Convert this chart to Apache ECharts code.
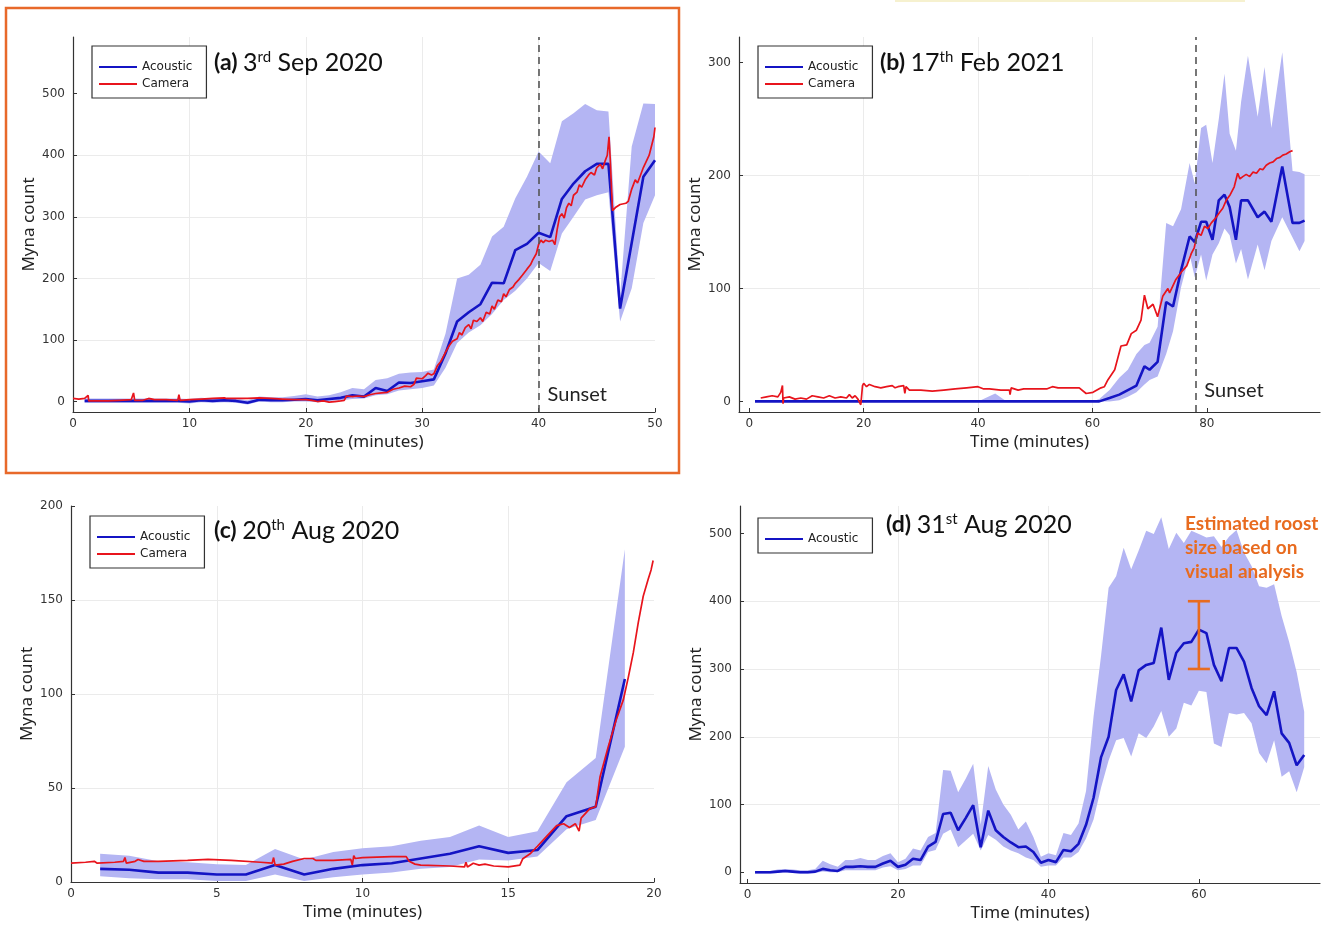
<!DOCTYPE html>
<html><head><meta charset="utf-8">
<script src="https://cdn.jsdelivr.net/npm/echarts@6/dist/echarts.min.js"></script>
<style>html,body{margin:0;padding:0;background:#fff}#c{width:1330px;height:926px}</style>
</head><body><div id="c"></div><script>
// ---------- Panel (a) 3rd Sep 2020 ----------
const aTime = [1,2,3,4,5,6,7,8,9,10,11,12,13,14,15,16,17,18,19,20,21,22,23,24,25,26,27,28,29,30,31,32,33,34,35,36,37,38,39,40,41,42,43,44,45,46,47,48,49,50];
const aAcoustic = [1,1,1,1,1,1,1,1,1,0, 2,1,2,1,-2,3,2,2,3,4, 2,4,6,10,8,22,17,31,30,33, 36,78,130,145,158,193,192,246,256,274, 267,329,354,374,386,386,151,258,365,392];
const aLow = [-2,-2,-2,-2,-2,-2,-2,-2,-2,-3, -1,-2,-1,-2,-5,0,-1,-1,0,0, -1,1,2,4,5,10,12,18,20,22, 26,55,95,112,124,142,165,180,200,225, 212,273,300,328,335,340,130,184,290,335];
const aHigh = [5,5,5,5,5,5,5,5,5,4, 6,5,6,5,2,8,7,7,9,12, 8,10,15,22,20,35,38,45,47,48, 52,110,200,206,222,268,284,330,365,406, 387,455,468,483,473,471,172,414,484,483];
const aCamera = [[0,5],[0.5,4],[1,5],[1.3,10],[1.35,1],[2,1],[3,1],[4,2],[5,3],[5.2,14],[5.3,2],[6,2],[6.5,5],[6.6,2],[7,3],[8,3],[9,2],[9.1,11],[9.2,2],[10,3],[11,4],[12,5],[13,6],[13.1,9],[13.2,5],[14,5],[15,5],[16,6],[17,5],[18,4],[18.1,6],[19,3],[20,3],[20.5,2],[21,0],[21.5,1],[22,-1],[22.5,0],[23,1],[23.3,2],[23.5,9],[24,8],[24.5,9],[25,8],[25.5,11],[26,13],[26.5,14],[27,15],[27.5,20],[28,22],[28.5,25],[29,24],[29.3,28],[29.5,38],[30,37],[30.3,42],[30.5,46],[30.8,43],[31,45],[31.3,58],[31.6,65],[32,80],[32.3,90],[32.6,98],[33,102],[33.2,112],[33.4,108],[33.7,120],[34,125],[34.2,118],[34.4,132],[34.7,130],[35,136],[35.2,130],[35.5,145],[35.8,142],[36,155],[36.2,150],[36.5,165],[36.8,162],[37,175],[37.2,170],[37.5,182],[37.8,186],[38,192],[38.3,198],[38.6,205],[38.8,210],[39,215],[39.3,222],[39.5,230],[39.8,240],[40,255],[40.2,262],[40.4,258],[40.6,262],[40.9,260],[41.2,262],[41.4,255],[41.6,280],[41.8,300],[42,305],[42.2,298],[42.4,315],[42.6,322],[42.8,318],[43,335],[43.3,340],[43.5,352],[43.7,348],[44,360],[44.3,368],[44.5,372],[44.8,368],[45,380],[45.3,385],[45.5,378],[45.7,390],[45.9,400],[46.05,430],[46.15,395],[46.35,310],[46.6,315],[47,320],[47.5,322],[47.7,325],[48,345],[48.3,360],[48.5,355],[48.8,370],[49,380],[49.3,392],[49.5,400],[49.7,415],[49.9,430],[50,445]];
const aSunset = 40;
const aXTicks = [0,10,20,30,40,50];
const aYTicks = [0,100,200,300,400,500];

// ---------- Panel (b) 17th Feb 2021 ----------
const bTime = [1,5,10,15,20,25,30,35,40,43,45,50,55,60,61.2,63,64.7,66.2,67.7,69.1,70,71.4,72.9,74.1,75.5,77,77.9,79,79.9,81,82.1,83.1,84,85.1,86,87.2,88.9,90.1,91.3,93.2,95,96.2,97.1];
const bAcoustic = [0,0,0,0,0,0,0,0,0,0,0,0,0,0,0,3,6,10,14,31,28,35,88,84,116,146,141,159,159,143,178,183,172,143,178,178,163,168,159,208,158,158,160];
const bLow = [0,0,0,0,0,0,0,0,0,0,0,0,0,0,0,0,1,4,8,15,19,22,42,62,101,130,110,130,107,130,140,153,147,122,135,108,139,116,142,163,145,133,142];
const bHigh = [0,0,0,0,0,0,0,0,0,7,0,0,0,0,2,10,21,28,42,50,52,66,158,155,170,211,193,242,245,211,250,290,237,222,265,306,252,296,242,309,204,203,201];
const bCamera = [[2,3],[3,4],[4,5],[5,4],[5.5,8],[5.8,14],[5.9,-2],[6,3],[7,4],[8,2],[9,3],[10,2],[11,5],[12,4],[13,3],[14,5],[15,3],[16,4],[17,3],[17.5,6],[18,3],[18.5,5],[19,2],[19.3,3],[19.5,-3],[19.8,14],[20,16],[20.5,13],[21,15],[22,13],[23,12],[24,13],[25,14],[25.5,12],[26,13],[27,14],[27.2,7],[27.4,13],[28,10],[30,10],[32,9],[34,10],[36,11],[38,12],[40,13],[41,11],[42,11],[44,10],[45.5,10],[45.6,6],[45.8,12],[47,10],[48,11],[50,11],[52,11],[53,13],[54,12],[56,12],[57.7,12],[58.9,7],[60.1,8],[61.5,12],[62.1,13],[62.7,19],[63.9,28],[65,49],[66,50],[66.8,60],[67.7,63],[68.5,72],[69.1,94],[69.7,82],[70.6,86],[71.4,75],[72.3,93],[73.2,100],[73.5,96],[74.6,108],[75.8,116],[76.5,120],[77.3,131],[77.8,136],[78.4,149],[79,147],[79.6,155],[80.2,153],[80.8,158],[81.5,162],[82.2,167],[82.8,171],[83.4,178],[84.1,183],[84.8,190],[85.4,202],[85.8,197],[86.3,199],[86.9,201],[87.5,199],[88.1,203],[88.7,202],[89.3,206],[89.8,205],[90.4,209],[91,211],[91.6,212],[92.2,215],[92.8,216],[93.3,218],[93.9,219],[94.5,221],[95,222]];
const bSunset = 78;
const bXTicks = [0,20,40,60,80];
const bYTicks = [0,100,200,300];

// ---------- Panel (c) 20th Aug 2020 ----------
const cTime = [1,2,3,4,5,6,7,8,9,10,11,12,13,14,15,16,17,18,19];
const cAcoustic = [7,6.5,5,5,4,4,9,4,7,9,10,12.5,15,19,15.5,17,35,40,108];
const cLow = [3,2,1.5,1.5,0.5,0.5,4,0.5,2.5,4,5,7,8,12,11.5,13.5,28,33,72];
const cHigh = [15,14,11,10.5,9.5,9,17.5,12,16,18,19,22,24,30,24,27,53,66,177];
const cCamera = [[0,10],[0.5,10.5],[0.8,11],[0.9,10],[1.5,10.5],[1.8,11],[1.85,13],[1.9,10],[2.2,11],[2.3,12],[2.5,11],[3,11],[4,11.5],[4.7,12],[5.5,11.5],[6.5,10.5],[6.9,10],[6.95,13],[7,9],[7.3,9.5],[7.6,11],[8,12.5],[8.3,12.5],[8.4,11.5],[9,11.5],[9.6,12],[9.65,9],[9.7,14],[9.75,12.5],[10,13],[11,13.5],[11.5,13.5],[11.6,11],[11.8,9.5],[12,9],[13,8.5],[13.5,8],[13.55,10.5],[13.6,8],[13.8,10],[14,9],[14.2,9.5],[14.5,8.5],[15,8],[15.4,9],[15.5,12.4],[15.75,15],[16,19],[16.3,24],[16.66,30],[16.9,31],[17.1,29],[17.3,31],[17.43,27],[17.5,34],[17.8,39],[18,40],[18.15,56],[18.43,72],[18.7,86],[18.95,97],[19.12,109],[19.29,122],[19.46,138],[19.63,152],[19.8,161],[19.9,166],[19.97,171]];
const cXTicks = [0,5,10,15,20];
const cYTicks = [0,50,100,150,200];

// ---------- Panel (d) 31st Aug 2020 ----------
const dTime = [1,2,3,4,5,6,7,8,9,10,11,12,13,14,15,16,17,18,19,20,21,22,23,24,25,26,27,28,29,30,31,32,33,34,35,36,37,38,39,40,41,42,43,44,45,46,47,48,49,50,51,52,53,54,55,56,57,58,59,60,61,62,63,64,65,66,67,68,69,70,71,72,73,74];
const dAcoustic = [0,0,0,1,2,1,0,0,1,5, 3,2,8,8,9,8,8,13,17,8, 11,20,18,38,45,86,88,62,80,99, 37,91,62,52,44,37,38,30,14,18, 15,33,31,42,70,110,170,200,269,292, 252,298,306,309,361,284,324,338,340,358, 353,306,282,331,331,311,272,245,232,267, 205,191,158,173];
const dLow = [-2,-2,-2,-1,0,-1,-2,-2,-1,1, 0,0,3,3,3,3,3,7,9,3, 5,10,10,30,33,57,63,37,47,57, 32,55,48,38,32,28,22,18,8,10, 10,22,22,30,50,78,125,165,195,198, 171,205,198,215,238,200,212,250,246,268, 266,190,185,235,233,235,220,176,161,195, 141,149,118,155];
const dHigh = [2,2,2,4,5,4,3,3,5,17, 12,8,18,18,21,18,18,24,28,15, 20,35,32,52,58,151,150,118,138,160, 70,157,122,100,85,63,75,52,23,28, 25,58,55,72,120,230,320,420,437,479, 447,475,504,499,524,477,501,486,504,499, 494,496,480,495,505,472,452,422,420,425, 378,340,295,237];
const dEstimate = [[60,300,400]];
const dXTicks = [0,20,40,60];
const dYTicks = [0,100,200,300,400,500];

// ---------- styles ----------
const BLUE = '#1414c4', RED = '#e8141c', BAND = '#b4b5f3', ORANGE = '#e86b1f';
const AXIS = '#333', GRIDC = '#ebebeb';
const TXT = 'Noto Sans', TICKF = 'DejaVu Sans', TITLEF = 'Lato';

function pairs(xs, ys) { return xs.map((x, i) => [x, ys[i]]); }

function xAxisDef(idx, min, max, ticks) {
  return {
    type: 'value', gridIndex: idx, min: min, max: max,
    name: 'Time (minutes)', nameLocation: 'middle', nameGap: 22,
    nameTextStyle: { fontFamily: TXT, fontSize: 17, color: '#222' },
    axisLine: { show: true, onZero: false, lineStyle: { color: AXIS, width: 1.2 } },
    axisTick: { show: true, inside: true, length: 4, customValues: ticks, lineStyle: { color: AXIS } },
    axisLabel: { customValues: ticks, fontFamily: TICKF, fontSize: 12, color: '#333', margin: 6 },
    splitLine: { show: true, showMinLine: false, showMaxLine: false, lineStyle: { color: GRIDC, width: 1 } }
  };
}
function yAxisDef(idx, min, max, ticks) {
  return {
    type: 'value', gridIndex: idx, min: min, max: max,
    name: 'Myna count', nameLocation: 'middle', nameGap: 35,
    nameTextStyle: { fontFamily: TXT, fontSize: 17, color: '#222' },
    axisLine: { show: true, onZero: false, lineStyle: { color: AXIS, width: 1.2 } },
    axisTick: { show: true, inside: true, length: 4, customValues: ticks, lineStyle: { color: AXIS } },
    axisLabel: { customValues: ticks, fontFamily: TICKF, fontSize: 12, color: '#333', margin: 8 },
    splitLine: { show: true, showMinLine: false, showMaxLine: false, lineStyle: { color: GRIDC, width: 1 } }
  };
}
function bandSeries(idx, xs, lo, hi) {
  return {
    type: 'custom', name: 'band' + idx, xAxisIndex: idx, yAxisIndex: idx, silent: true, z: 1, clip: true,
    data: xs.map((x, i) => [x, lo[i], hi[i]]),
    encode: { x: 0, y: [1, 2] },
    renderItem: function (params, api) {
      if (params.dataIndexInside !== 0) return null;
      const pts = [];
      for (let i = 0; i < xs.length; i++) pts.push(api.coord([xs[i], hi[i]]));
      for (let i = xs.length - 1; i >= 0; i--) pts.push(api.coord([xs[i], lo[i]]));
      return { type: 'polygon', shape: { points: pts }, style: { fill: BAND, stroke: null } };
    }
  };
}
function acousticSeries(idx, data, extra) {
  return Object.assign({
    type: 'line', name: 'Acoustic', xAxisIndex: idx, yAxisIndex: idx, data: data,
    showSymbol: false, symbol: 'none', z: 3, color: BLUE,
    lineStyle: { color: BLUE, width: 2.6 }
  }, extra || {});
}
function cameraSeries(idx, data) {
  return {
    type: 'line', name: 'Camera', xAxisIndex: idx, yAxisIndex: idx, data: data,
    showSymbol: false, symbol: 'none', z: 4, color: RED,
    lineStyle: { color: RED, width: 1.7 }
  };
}
function sunsetMarks(x, yLab) {
  return {
    markLine: { silent: true, symbol: 'none', animation: false, label: { show: false },
      lineStyle: { type: [7, 5], color: '#555', width: 1.6 }, data: [{ xAxis: x }] },
    markPoint: { silent: true, symbol: 'circle', symbolSize: 0, animation: false,
      data: [{ coord: [x, yLab], label: { show: true, position: 'right', distance: 9, formatter: 'Sunset',
        fontFamily: TITLEF, fontSize: 20, color: '#222' } }] }
  };
}
function legendDef(left, top, names) {
  return {
    left: left, top: top, orient: 'vertical', selectedMode: false,
    data: names.map(n => ({ name: n, icon: 'rect' })),
    itemWidth: 38, itemHeight: 2, itemGap: 5,
    padding: [15, 14, 8, 7], borderColor: '#333', borderWidth: 1.2, backgroundColor: '#fff',
    textStyle: { fontFamily: TICKF, fontSize: 12, color: '#222' }
  };
}
function titleText(left, top, label, num, sup, rest) {
  return {
    type: 'text', left: left, top: top, z: 10,
    style: {
      text: '{b|' + label + ' }{n|' + num + '}{s|' + sup + '}{n| ' + rest + '}',
      rich: {
        b: { fontFamily: TITLEF, fontWeight: 'bold', fontSize: 23, fill: '#111' },
        n: { fontFamily: TITLEF, fontSize: 25, fill: '#111' },
        s: { fontFamily: TITLEF, fontSize: 15, fill: '#111', verticalAlign: 'top' }
      }
    }
  };
}

const chart = echarts.init(document.getElementById('c'));
chart.setOption({
  animation: false,
  backgroundColor: '#fff',
  grid: [
    { left: 73, top: 37, width: 582, height: 375 },
    { left: 739, top: 37, width: 581, height: 375 },
    { left: 71, top: 506, width: 583, height: 376 },
    { left: 740, top: 506, width: 580, height: 377 }
  ],
  xAxis: [
    xAxisDef(0, 0, 50, aXTicks),
    xAxisDef(1, -1.8, 99.8, bXTicks),
    xAxisDef(2, 0, 20, cXTicks),
    xAxisDef(3, -1, 76.1, dXTicks)
  ],
  yAxis: [
    yAxisDef(0, -17, 592, aYTicks),
    yAxisDef(1, -9.4, 322.6, bYTicks),
    yAxisDef(2, 0, 200, cYTicks),
    yAxisDef(3, -15.8, 540.5, dYTicks)
  ],
  legend: [
    legendDef(92, 46, ['Acoustic', 'Camera']),
    legendDef(758, 46, ['Acoustic', 'Camera']),
    legendDef(90, 516, ['Acoustic', 'Camera']),
    legendDef(758, 518, ['Acoustic'])
  ],
  series: [
    bandSeries(0, aTime, aLow, aHigh),
    acousticSeries(0, pairs(aTime, aAcoustic), sunsetMarks(aSunset, 11)),
    cameraSeries(0, aCamera),

    bandSeries(1, bTime, bLow, bHigh),
    acousticSeries(1, pairs(bTime, bAcoustic), sunsetMarks(bSunset, 10)),
    cameraSeries(1, bCamera),

    bandSeries(2, cTime, cLow, cHigh),
    acousticSeries(2, pairs(cTime, cAcoustic)),
    cameraSeries(2, cCamera),

    bandSeries(3, dTime, dLow, dHigh),
    acousticSeries(3, pairs(dTime, dAcoustic)),
    {
      type: 'custom', name: 'estimate', xAxisIndex: 3, yAxisIndex: 3, z: 5, silent: true,
      data: dEstimate, encode: { x: 0, y: [1, 2] },
      renderItem: function (params, api) {
        const top = api.coord([api.value(0), api.value(2)]);
        const bot = api.coord([api.value(0), api.value(1)]);
        const w = 11;
        const st = { stroke: ORANGE, lineWidth: 2.6 };
        return { type: 'group', children: [
          { type: 'line', shape: { x1: top[0], y1: top[1], x2: bot[0], y2: bot[1] }, style: st },
          { type: 'line', shape: { x1: top[0] - w, y1: top[1], x2: top[0] + w, y2: top[1] }, style: st },
          { type: 'line', shape: { x1: bot[0] - w, y1: bot[1], x2: bot[0] + w, y2: bot[1] }, style: st }
        ] };
      }
    }
  ],
  graphic: [
    { type: 'rect', shape: { x: 6, y: 8, width: 673, height: 465 }, style: { fill: null, stroke: '#e8692a', lineWidth: 2.5 }, z: 20 },
    { type: 'rect', shape: { x: 895, y: 0, width: 350, height: 2 }, style: { fill: '#f6f1cf' } },
    titleText(214, 50, '(a)', '3', 'rd', 'Sep 2020'),
    titleText(880, 50, '(b)', '17', 'th', 'Feb 2021'),
    titleText(214, 518, '(c)', '20', 'th', 'Aug 2020'),
    titleText(886, 512, '(d)', '31', 'st', 'Aug 2020'),
    { type: 'text', left: 1185, top: 512, z: 10,
      style: { text: 'Estimated roost\nsize based on\nvisual analysis', fontFamily: TITLEF, fontWeight: 'bold',
        fontSize: 19, lineHeight: 24, fill: ORANGE } }
  ]
});
</script></body></html>
